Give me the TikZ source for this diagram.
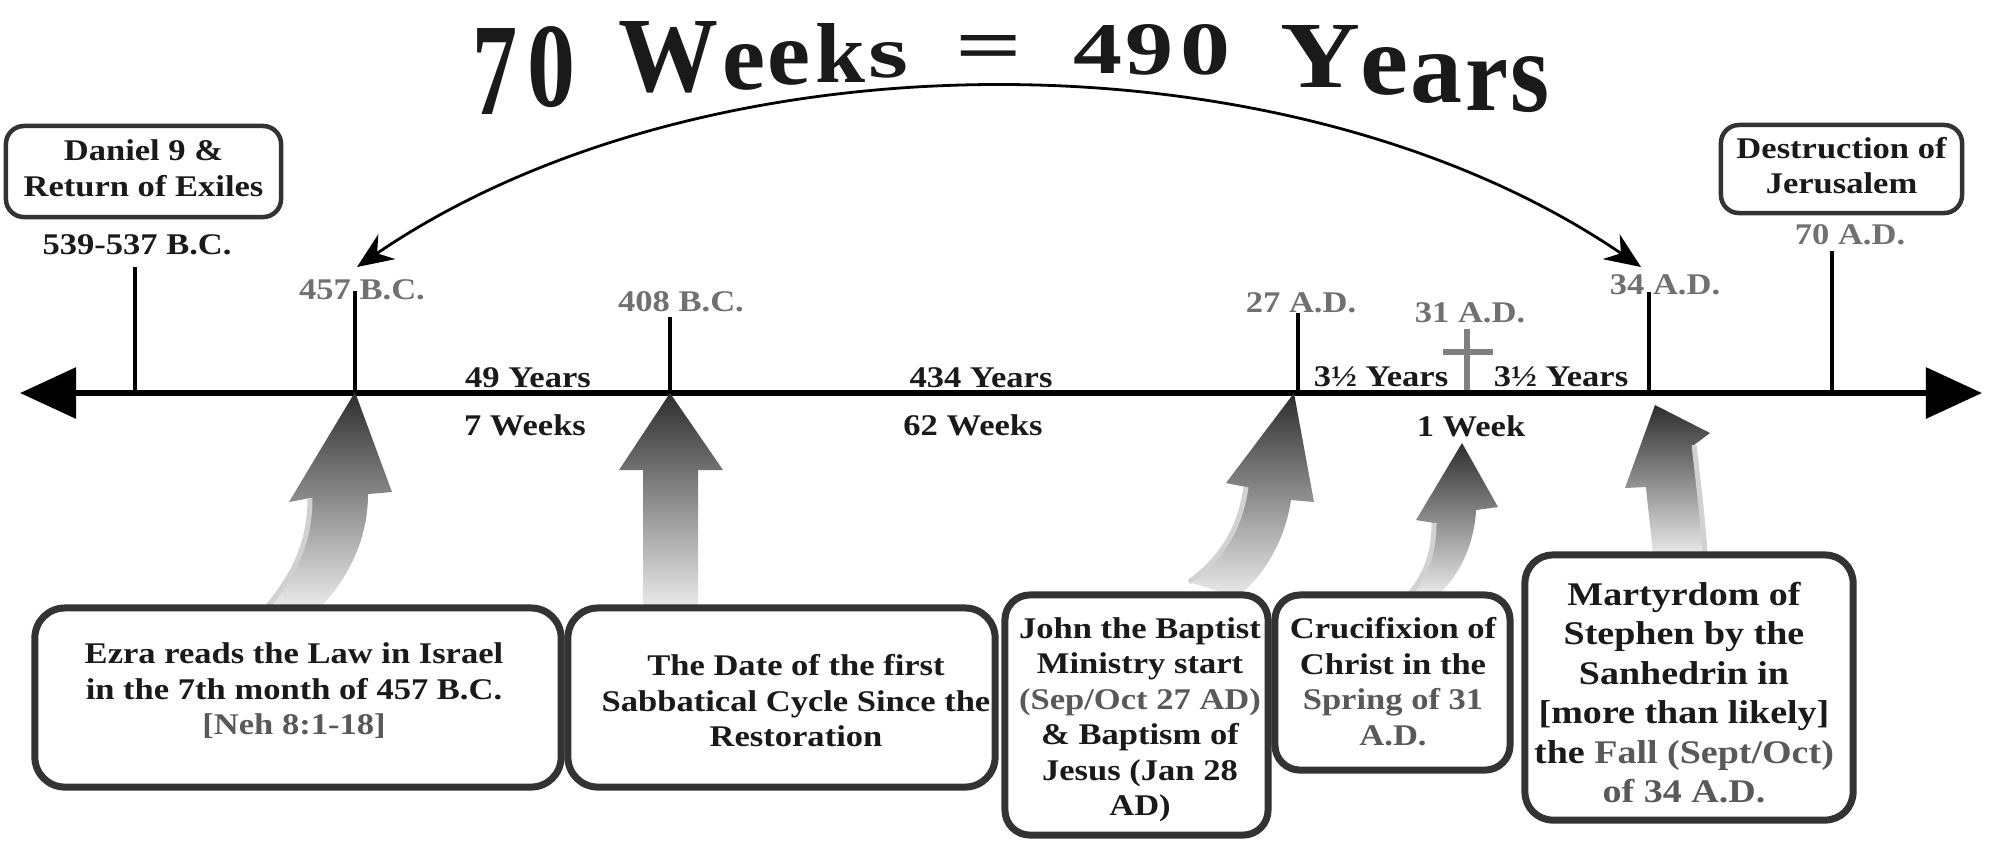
\documentclass[tikz,border=0pt]{standalone}
\usepackage{fontspec}
\setmainfont{Liberation Serif}
\usepackage{graphicx}
\usetikzlibrary{arrows.meta}
\newdimen\upx \upx=0.01cm
\definecolor{ink}{HTML}{1A1A1A}
\definecolor{dgray}{HTML}{707070}
\definecolor{tgray}{HTML}{595959}
\definecolor{boxc}{HTML}{333333}
\definecolor{crossc}{HTML}{808080}
\newcommand\wx[1]{\scalebox{1.15}[1]{#1}}
\newcommand\ml[1]{\wx{\begin{tabular}{@{}c@{}}#1\end{tabular}}}
\newcommand\fs{\fontsize{8.54pt}{10.1pt}\selectfont\bfseries}
\newcommand\fm{\fontsize{9.4pt}{11.24pt}\selectfont\bfseries}
\newcommand\tglyph[6]{\node[glyph] (#1) at (#2,#3) {\resizebox{#4\upx}{#5\upx}{#6}};}
\begin{document}
\begin{tikzpicture}[x=0.01cm,y=-0.01cm,
  glyph/.style={inner sep=0, outer sep=0, anchor=south west, text=ink, font=\bfseries},
  lab/.style={inner sep=0, outer sep=0, font=\fs, text=ink},
  tbox/.style={draw=boxc, fill=white, rounded corners=0.18cm, line width=0.045cm, inner sep=0, font=\fs, text=ink},
  bbox/.style={draw=boxc, fill=white, rounded corners=0.3cm, line width=0.07cm, inner sep=0},
  tickline/.style={line width=0.045cm, draw=black},
  axisline/.style={line width=0.06cm, draw=black, arrows={Triangle[length=0.56cm,width=0.5cm]-Triangle[length=0.56cm,width=0.5cm]}},
  arcarrow/.style={line width=0.028cm, draw=black, arrows={Stealth[length=0.36cm,width=0.3cm]-Stealth[length=0.36cm,width=0.3cm]}},
  fat/.style={top color=black!82, bottom color=black!8},
  fatside/.style={draw=black!18, line width=0.05cm},
  crossline/.style={draw=crossc, line width=0.06cm}
]
\useasboundingbox (0,0) rectangle (2000,850);

% ---------- title ----------
\tglyph{ti1}{472}{114}{45}{86}{7}
\tglyph{ti2}{527}{108}{48}{80}{0}
\tglyph{ti3}{618}{93}{100}{70}{W}
\tglyph{ti4}{722}{90}{43}{45}{e}
\tglyph{ti5}{767}{85}{43}{43}{e}
\tglyph{ti6}{815}{82}{50}{59}{k}
\tglyph{ti7}{868}{78}{40}{35}{s}
\tglyph{ti8}{955}{71}{67}{36}{=}
\tglyph{ti9}{1073}{73}{49}{48}{4}
\tglyph{ti10}{1125}{75}{48}{50}{9}
\tglyph{ti11}{1180}{75}{50}{50}{0}
\tglyph{ti12}{1280}{87}{80}{62}{Y}
\tglyph{ti13}{1360}{95}{48}{47}{e}
\tglyph{ti14}{1410}{103}{52}{48}{a}
\tglyph{ti15}{1465}{110}{43}{50}{r}
\tglyph{ti16}{1510}{113}{39}{55}{s}

% ---------- axis ----------
\coordinate (axL) at (20,393);
\coordinate (axR) at (1982,393);
\draw[axisline] (axL) -- (axR);

% ticks
\coordinate (k539b) at (135,393);  \coordinate (k539t) at (135,267);
\coordinate (k457b) at (355,393);  \coordinate (k457t) at (355,291);
\coordinate (k408b) at (670,393);  \coordinate (k408t) at (670,317);
\coordinate (k27b)  at (1298,393); \coordinate (k27t)  at (1298,313);
\coordinate (k34b)  at (1649,393); \coordinate (k34t)  at (1649,292);
\coordinate (k70b)  at (1832,393); \coordinate (k70t)  at (1832,251);
\foreach \k in {539,457,408,27,34,70} \draw[tickline] (k\k t) -- (k\k b);

% cross
\coordinate (crT) at (1467,329); \coordinate (crB) at (1467,390);
\coordinate (crL) at (1443,352); \coordinate (crR) at (1493,352);
\draw[crossline] (crT) -- (crB);
\draw[crossline] (crL) -- (crR);

% ---------- curved 70 weeks arrow ----------
\coordinate (c457) at (357,267);
\coordinate (c34) at (1641,267);
\draw[arcarrow] (c457) .. controls (707,28) and (1291,28) .. (c34);

% ---------- labels ----------
\node[lab] (l539) at (137,245) {\wx{539-537 B.C.}};
\node[lab, text=dgray] (l457) at (362,290) {\wx{457 B.C.}};
\node[lab, text=dgray] (l408) at (681,302) {\wx{408 B.C.}};
\node[lab, text=dgray] (l27) at (1301,303) {\wx{27 A.D.}};
\node[lab, text=dgray] (l31) at (1470,313) {\wx{31 A.D.}};
\node[lab, text=dgray] (l34) at (1665,285) {\wx{34 A.D.}};
\node[lab, text=dgray] (l70) at (1850,235) {\wx{70 A.D.}};

\node[lab] (y49) at (528,378) {\wx{49 Years}};
\node[lab] (w7) at (525,425) {\wx{7 Weeks}};
\node[lab] (y434) at (981,378) {\wx{434 Years}};
\node[lab] (w62) at (973,425) {\wx{62 Weeks}};
\node[lab] (y35a) at (1381,377) {\wx{3½ Years}};
\node[lab] (y35b) at (1561,377) {\wx{3½ Years}};
\node[lab] (w1) at (1471,426) {\wx{1 Week}};

% ---------- top boxes ----------
\node[tbox, minimum width=2.75cm, minimum height=0.91cm] (dan) at (143.5,171.5)
  {\ml{Daniel 9 \&\\Return of Exiles}};
\node[tbox, minimum width=2.41cm, minimum height=0.88cm] (des) at (1841.5,169)
  {\ml{Destruction of\\Jerusalem}};

% ---------- fat arrows ----------
\shade[fat] (355,392) -- (392,492) -- (368,494) .. controls (368,540) and (348,578) .. (320,608)
  -- (268,608) .. controls (296,572) and (310,540) .. (310,498) -- (289,502) -- cycle;
\draw[fatside] (268,606) .. controls (296,572) and (310,540) .. (310,498);

\shade[fat] (670,393) -- (723,470) -- (698,470) -- (698,608) -- (643,608) -- (643,470) -- (619,470) -- cycle;

\shade[fat] (1294,393) -- (1314,502) -- (1291,500) .. controls (1285,540) and (1265,575) .. (1237,597)
  -- (1189,582) .. controls (1220,560) and (1240,530) .. (1246,487) -- (1226,483) -- cycle;
\draw[fatside] (1189,582) .. controls (1220,560) and (1240,530) .. (1246,487);

\shade[fat] (1462,443) -- (1498,507) -- (1476,510) .. controls (1474,550) and (1455,580) .. (1437,596)
  -- (1410,596) .. controls (1425,575) and (1434,555) .. (1434,523) -- (1416,520) -- cycle;
\draw[fatside] (1410,594) .. controls (1425,575) and (1434,555) .. (1434,523);

\shade[fat] (1655,405) -- (1710,433) -- (1694,445) .. controls (1698,480) and (1703,520) .. (1705,556)
  -- (1653,556) .. controls (1651,530) and (1648,510) .. (1646,487) -- (1625,488) -- cycle;
\draw[fatside] (1694,445) .. controls (1698,480) and (1703,520) .. (1705,554);

% ---------- bottom boxes ----------
\node[bbox, minimum width=5.26cm, minimum height=1.79cm] (ezra) at (298,697.5) {};
\node[bbox, minimum width=4.27cm, minimum height=1.79cm] (sabb) at (781.5,697.5) {};
\node[bbox, rounded corners=0.25cm, minimum width=2.63cm, minimum height=2.4cm] (john) at (1136.5,715) {};
\node[bbox, rounded corners=0.25cm, minimum width=2.35cm, minimum height=1.75cm] (cruc) at (1392.5,682.5) {};
\node[bbox, rounded corners=0.28cm, minimum width=3.28cm, minimum height=2.65cm] (mart) at (1689,687.5) {};

\node[lab] (ezrat) at (294,692)
  {\ml{Ezra reads the Law in Israel\\in the 7th month of 457 B.C.\\{\color{tgray}[Neh 8:1-18]}}};
\node[lab] (sabbt) at (796,704)
  {\ml{The Date of the first\\Sabbatical Cycle Since the\\Restoration}};
\node[lab] (johnt) at (1140,720)
  {\ml{John the Baptist\\Ministry start\\{\color{tgray}(Sep/Oct 27 AD)}\\\& Baptism of\\Jesus (Jan 28\\AD)}};
\node[lab] (cruct) at (1393,685)
  {\ml{Crucifixion of\\Christ in the\\{\color{tgray}Spring of 31}\\{\color{tgray}A.D.}}};
\node[lab, font=\fm] (martt) at (1684,696)
  {\ml{Martyrdom of\\Stephen by the\\Sanhedrin in\\{}[more than likely]\\the {\color{tgray}Fall (Sept/Oct)}\\{\color{tgray}of 34 A.D.}}};
\end{tikzpicture}
\end{document}
